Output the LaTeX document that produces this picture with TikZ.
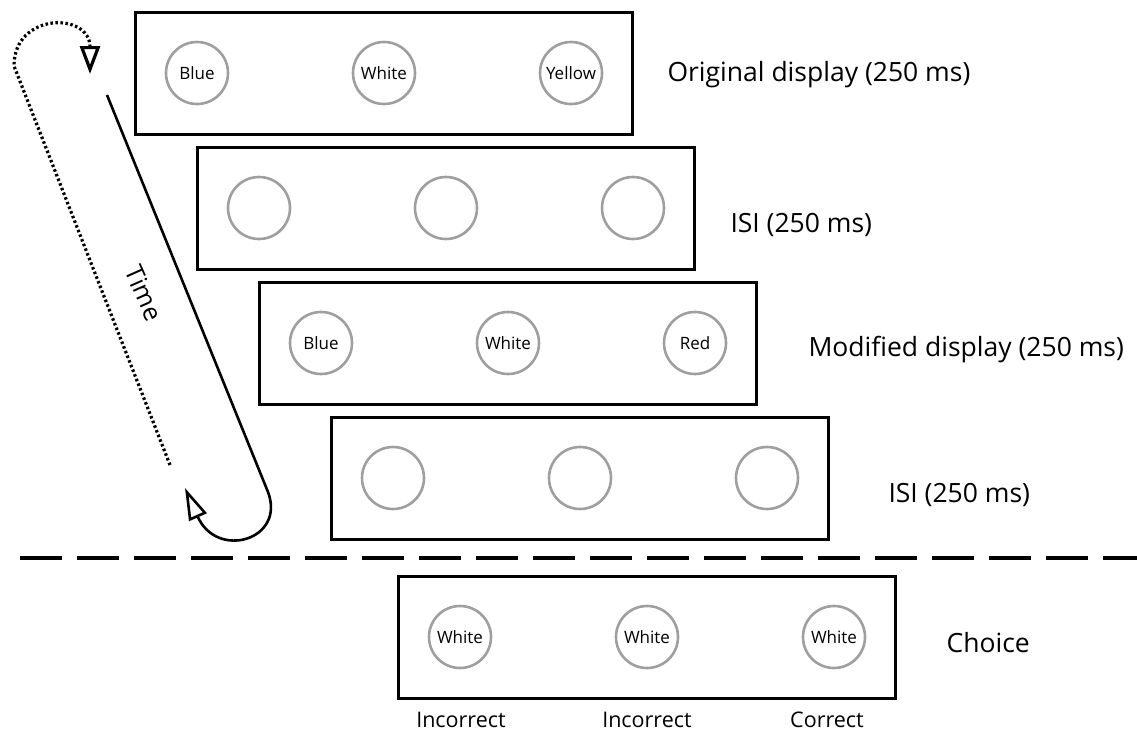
\documentclass[tikz,border=0pt]{standalone}
\usepackage{fontspec}
\setmainfont{Open Sans}
\usetikzlibrary{arrows.meta}

\begin{document}
\begin{tikzpicture}[x=1pt, y=-1pt,
  panel/.style={draw, line width=3pt, rectangle, minimum width=497pt, minimum height=122pt, inner sep=0pt},
  disc/.style={draw=gray!75, fill=white, line width=2.6pt, circle, minimum size=62pt, inner sep=0pt, font=\fontsize{17}{20}\selectfont},
  phase/.style={anchor=west, font=\fontsize{26.5}{30}\selectfont},
  verdict/.style={font=\fontsize{21.5}{25}\selectfont}]
  \useasboundingbox (0,0) rectangle (1137,732);

  % Original display
  \node[panel] (orig) at (384,73) {};
  \node[disc] (o1) at (197,73) {Blue};
  \node[disc] (o2) at (384,73) {White};
  \node[disc] (o3) at (571,73) {Yellow};
  \node[phase] (origlbl) at (664,75) {Original display (250 ms)};

  % First ISI
  \node[panel] (isia) at (446,208) {};
  \node[disc] (a1) at (259,208) {};
  \node[disc] (a2) at (446,208) {};
  \node[disc] (a3) at (633,208) {};
  \node[phase] (isialbl) at (727,225) {ISI (250 ms)};

  % Modified display
  \node[panel] (mod) at (508,343) {};
  \node[disc] (m1) at (321,343) {Blue};
  \node[disc] (m2) at (508,343) {White};
  \node[disc] (m3) at (695,343) {Red};
  \node[phase] (modlbl) at (805,350) {Modified display (250 ms)};

  % Second ISI
  \node[panel] (isib) at (580,478) {};
  \node[disc] (b1) at (393,478) {};
  \node[disc] (b2) at (580,478) {};
  \node[disc] (b3) at (767,478) {};
  \node[phase] (isiblbl) at (885,495) {ISI (250 ms)};

  % Separator
  \coordinate (sepl) at (20,558);
  \coordinate (sepr) at (1137,558);
  \draw[line width=4pt, dash pattern=on 42pt off 15pt] (sepl) -- (sepr);

  % Choice
  \node[panel] (choice) at (647,637) {};
  \node[disc] (c1) at (460,637) {White};
  \node[disc] (c2) at (647,637) {White};
  \node[disc] (c3) at (834,637) {White};
  \node[phase] (choicelbl) at (943,643) {Choice};
  \node[verdict] (v1) at (461,720) {Incorrect};
  \node[verdict] (v2) at (647,720) {Incorrect};
  \node[verdict] (v3) at (827,720) {Correct};

  % Time loop
  \coordinate (ttop) at (107,95);
  \coordinate (tbot) at (268,492);
  \coordinate (ttip) at (185,488);
  \coordinate (dbot) at (170,465);
  \coordinate (dtop) at (14,66);
  \coordinate (dtip) at (90,74);
  \draw[line width=2.6pt, -{Triangle[open, length=32pt, width=19pt]}]
    (ttop) -- (tbot) .. controls (286,540) and (217,560) .. (ttip);
  \draw[line width=3.2pt, dash pattern=on 2.5pt off 2.5pt, -{Triangle[open, length=28pt, width=20pt]}]
    (dbot) -- (dtop) .. controls (14,12) and (90,12) .. (dtip);
  \node[font=\fontsize{25}{30}\selectfont, rotate=-66] (time) at (144,293) {Time};
\end{tikzpicture}
\end{document}
